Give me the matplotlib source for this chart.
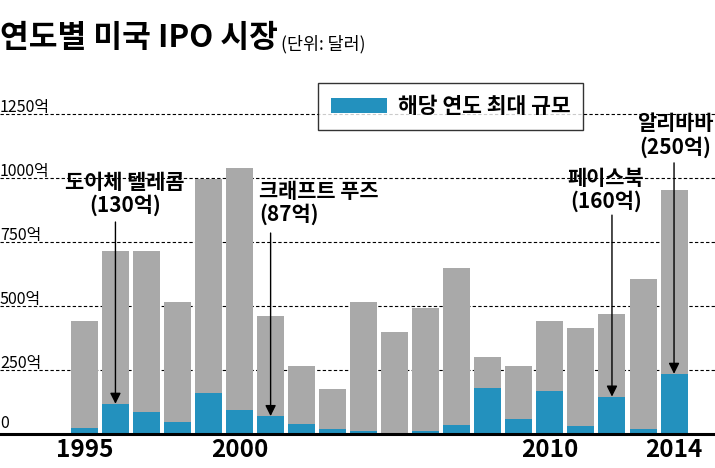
import matplotlib
matplotlib.use("Agg")
import matplotlib.pyplot as plt

plt.rcParams["font.family"] = ["Noto Sans CJK KR", "DejaVu Sans"]

# 연도별 미국 IPO 총액 / 해당 연도 최대 IPO (억 달러, 그림에서 읽은 값)
years = list(range(1995, 2015))
total = [442, 714, 714, 516, 995, 1041, 460, 265, 176, 516,
         398, 493, 647, 300, 265, 441, 413, 468, 604, 952]
largest = [25, 118, 86, 47, 161, 94, 70, 39, 18, 13,
           0, 13, 36, 180, 59, 168, 32, 146, 20, 235]

ytick_vals = [0, 250, 500, 750, 1000, 1250]
ytick_labels = ["0", "250억", "500억", "750억", "1000억", "1250억"]
xtick_vals = [1995, 2000, 2010, 2014]

# 주석: (이름, 금액 라벨, 연도)
notes = [("도이체 텔레콤", "(130억)", 1996),
         ("크래프트 푸즈", "(87억)", 2001),
         ("페이스북", "(160억)", 2012),
         ("알리바바", "(250억)", 2014)]

GRAY = "#a9a9a9"
BLUE = "#2391be"

fig = plt.figure(figsize=(7.15, 4.68), dpi=100)
ax = fig.add_axes([0, 34 / 468, 1, 334 / 468])
ax.set_xlim(1992.28, 2015.32)
ax.set_ylim(0, 334 / 0.256)

for v in ytick_vals[1:]:
    ax.axhline(v, color="black", lw=0.8, ls=(0, (3, 2)), zorder=0)

ax.bar(years, total, width=0.87, color=GRAY, zorder=2)
ax.bar(years, largest, width=0.87, color=BLUE, zorder=3,
       label="해당 연도 최대 규모")

for s in ["top", "left", "right"]:
    ax.spines[s].set_visible(False)
ax.spines["bottom"].set_linewidth(2.2)
ax.spines["bottom"].set_zorder(4)
ax.set_yticks([])
ax.set_xticks(xtick_vals)
ax.set_xticklabels([str(x) for x in xtick_vals], fontsize=17.5,
                   fontweight="bold")
ax.tick_params(axis="x", length=0, pad=3)

# y축 라벨은 점선 위 왼쪽에
for v, lab in zip(ytick_vals, ytick_labels):
    off = 6 if v == 0 else 2
    ax.annotate(lab, xy=(0, v), xycoords=("axes fraction", "data"),
                xytext=(0, off), textcoords="offset pixels",
                ha="left", va="baseline", fontsize=11.5)

# 주석 텍스트와 화살표: (텍스트 x, 텍스트 y, 정렬, 화살표 시작 y)
text_pos = {1996: (1996.3, 938, "center", 828),
            2001: (2000.63, 903, "left", 785),
            2012: (2011.8, 953, "center", 855),
            2014: (2014.03, 1166, "center", 1059)}
for name, amt, yr in notes:
    tx, ty, ha, arrow_top = text_pos[yr]
    ax.text(tx, ty, name + "\n" + amt, ha=ha, va="center",
            multialignment=ha, fontsize=15, fontweight="bold",
            linespacing=1.1, zorder=5)
    blue = largest[years.index(yr)]
    ax.annotate("", xy=(yr, blue), xytext=(yr, arrow_top),
                arrowprops=dict(arrowstyle="-|>", color="black", lw=1,
                                mutation_scale=16, shrinkA=0, shrinkB=0),
                zorder=6)

leg = ax.legend(loc="upper left", bbox_to_anchor=(318 / 715, 1 - (83 - 100) / 334),
                frameon=True, fancybox=False, fontsize=15.5,
                handlelength=2.6, handleheight=0.75, borderpad=0.6,
                handletextpad=0.5, borderaxespad=0)
leg.get_frame().set_edgecolor("black")
leg.get_frame().set_linewidth(1)
for t in leg.get_texts():
    t.set_fontweight("bold")

title = fig.text(0.0, 1 - 47 / 468, "연도별 미국 IPO 시장", fontsize=22.5,
                 fontweight="heavy", ha="left", va="baseline")
ax.annotate("(단위: 달러)", xy=(1, 0), xycoords=title, xytext=(3, 1),
            textcoords="offset pixels", ha="left", va="bottom",
            fontsize=12.5, fontweight="medium")

fig.savefig("out.png", dpi=100)
